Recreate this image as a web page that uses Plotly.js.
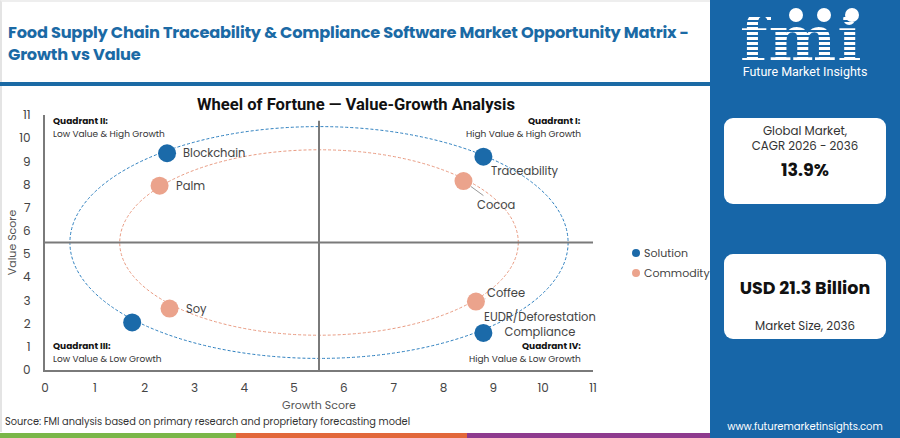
<!DOCTYPE html>
<html><head><meta charset="utf-8">
<script src="https://cdn.plot.ly/plotly-3.0.1.min.js"></script>
<style>
html,body{margin:0;padding:0;width:900px;height:438px;overflow:hidden;background:#fff;font-family:Poppins,Inter,"Open Sans",sans-serif;}
#wrap{position:relative;width:900px;height:438px;}
#frame{position:absolute;left:0;top:0;width:710px;height:432px;border-left:2px solid #e4e4e4;border-top:2px solid #eee;box-sizing:border-box;}
#chart{position:absolute;left:0;top:0;width:900px;height:438px;}
#hdr{position:absolute;left:8px;top:22px;font-weight:700;font-size:16.2px;line-height:22px;color:#1b6aa5;letter-spacing:-0.2px;}
#rule{position:absolute;left:0;top:82px;width:712px;height:4px;background:#1b6aa5;}
#src{position:absolute;left:5px;top:415px;font-size:9.8px;color:#333;}
.bar{position:absolute;top:433px;height:5px;}
#side{position:absolute;left:710px;top:0;width:190px;height:438px;background:#1766a8;z-index:5;}
#logo{position:absolute;left:30px;top:17px;height:44px;font-family:"DejaVu Serif","Liberation Serif",serif;font-weight:700;font-size:64px;letter-spacing:1px;color:transparent;
 background:repeating-linear-gradient(to bottom,#fff 0 3px,rgba(255,255,255,0) 3px 5px);-webkit-background-clip:text;background-clip:text;line-height:44px;padding-top:0;}
.globe{position:absolute;width:14px;height:14px;border-radius:50%;background:#fff;top:8px;}
#fmitxt{position:absolute;left:0;width:190px;text-align:center;top:64px;color:#fff;font-size:12.5px;line-height:16px;font-family:Roboto,"Open Sans",sans-serif;}
.card{position:absolute;left:14px;width:162px;background:#fff;border-radius:9px;text-align:center;color:#222;}
.card .s{font-size:11.8px;line-height:15px;color:#333;}
.card .b{font-size:17.5px;line-height:22px;font-weight:700;color:#111;}
#web{position:absolute;left:0;width:190px;text-align:center;top:419px;color:#fff;font-size:10px;}
</style></head>
<body><div id="wrap">
<div id="frame"></div>
<div id="chart"></div>
<div id="hdr">Food Supply Chain Traceability &amp; Compliance Software Market Opportunity Matrix -<br>Growth vs Value</div>
<div id="rule"></div>
<div id="src">Source: FMI analysis based on primary research and proprietary forecasting model</div>
<div class="bar" style="left:0;width:236px;background:#7ab648;"></div>
<div class="bar" style="left:236px;width:231px;background:#e2673a;"></div>
<div class="bar" style="left:467px;width:243px;background:#8e3a8e;"></div>
<div id="side">
  <div id="logo">fmi</div>
  <div class="globe" style="left:79px"></div>
  <div class="globe" style="left:107px"></div>
  <div class="globe" style="left:135px"></div>
  <div id="fmitxt">Future Market Insights</div>
  <div class="card" style="top:118px;height:86px;">
    <div class="s" style="margin-top:6px">Global Market,</div>
    <div class="s">CAGR 2026 - 2036</div>
    <div class="b" style="margin-top:5px">13.9%</div>
  </div>
  <div class="card" style="top:254px;height:85px;">
    <div class="b" style="margin-top:23px">USD 21.3 Billion</div>
    <div class="s" style="margin-top:20px">Market Size, 2036</div>
  </div>
  <div id="web">www.futuremarketinsights.com</div>
</div>
</div>
<script>
// ---- data ----
const seriesNames = ['Solution', 'Commodity'];
const solutionLabels = ['Blockchain', 'Traceability', '', 'EUDR/Deforestation<br>Compliance'];
const solutionGrowth = [2.45, 8.8, 1.75, 8.8];
const solutionValue  = [9.35, 9.2, 2.05, 1.6];
const commodityLabels = ['Palm', 'Cocoa', 'Soy', 'Coffee'];
const commodityGrowth = [2.3, 8.4, 2.5, 8.65];
const commodityValue  = [7.95, 8.15, 2.65, 2.95];
const tickValues = [0,1,2,3,4,5,6,7,8,9,10,11];
const ringCenter = [5.5, 5.5];
const ringRadius = [5, 4];   // solution ring, commodity ring
const divider = [5.5, 5.5];  // growth, value split
const quadrantTitles = ['Quadrant I:', 'Quadrant II:', 'Quadrant III:', 'Quadrant IV:'];
const quadrantTexts = ['High Value & High Growth', 'Low Value & High Growth', 'Low Value & Low Growth', 'High Value & Low Growth'];

// ---- styles ----
const BLUE = '#1b6aa9', ORANGE = '#eba38c';
const RINGBLUE = '#2d7fbf', RINGORANGE = '#e99b82';
const FONT = 'Poppins, Inter, "Open Sans", sans-serif';
const solLabelStyle = [
  {showarrow:false, xanchor:'left', xshift:14, yshift:0},
  {showarrow:false, xanchor:'left', xshift:6, yshift:-14},
  null,
  {showarrow:false, xanchor:'center', xshift:57, yshift:8, align:'center'}
];
const comLabelStyle = [
  {showarrow:false, xanchor:'left', xshift:14, yshift:0},
  {showarrow:true, ax:33, ay:24, arrowhead:0, arrowwidth:1, arrowcolor:'#999', standoff:9},
  {showarrow:false, xanchor:'left', xshift:14, yshift:0},
  {showarrow:true, ax:30, ay:-9, arrowhead:0, arrowwidth:1, arrowcolor:'#bbb', standoff:9}
];
const SERIES_COLORS = [BLUE, ORANGE];

const traces = [
  {type:'scatter', mode:'markers', name:seriesNames[0], x:solutionGrowth, y:solutionValue,
   marker:{size:18, color:BLUE}, cliponaxis:false},
  {type:'scatter', mode:'markers', name:seriesNames[1], x:commodityGrowth, y:commodityValue,
   marker:{size:18, color:ORANGE}, cliponaxis:false}
];

const annotations = [];
function addLabels(labels, xs, ys, styles){
  labels.forEach((t,i)=>{
    if(!t || !styles[i]) return;
    annotations.push(Object.assign({xref:'x', yref:'y', x:xs[i], y:ys[i], text:t,
      font:{family:FONT, size:11.5, color:'#444'}}, styles[i]));
  });
}
addLabels(solutionLabels, solutionGrowth, solutionValue, solLabelStyle);
addLabels(commodityLabels, commodityGrowth, commodityValue, comLabelStyle);

const qPos = [
  {x:0.982, xanchor:'right', yt:0.976, yb:0.925},
  {x:0.011, xanchor:'left', yt:0.976, yb:0.925},
  {x:0.011, xanchor:'left', yt:0.094, yb:0.043},
  {x:0.982, xanchor:'right', yt:0.094, yb:0.043}
];
quadrantTitles.forEach((t,i)=>{
  const p = qPos[i];
  annotations.push({xref:'paper', yref:'paper', x:p.x, y:p.yt, xanchor:p.xanchor, yanchor:'middle',
    text:'<b>'+t+'</b>', showarrow:false, font:{family:FONT, size:9, color:'#111'}});
  annotations.push({xref:'paper', yref:'paper', x:p.x, y:p.yb, xanchor:p.xanchor, yanchor:'middle',
    text:quadrantTexts[i], showarrow:false, font:{family:FONT, size:9, color:'#333'}});
});

const shapes = [];
[RINGBLUE, RINGORANGE].forEach((c,i)=>{
  shapes.push({type:'circle', xref:'x', yref:'y', layer:'below',
    x0:ringCenter[0]-ringRadius[i], x1:ringCenter[0]+ringRadius[i],
    y0:ringCenter[1]-ringRadius[i], y1:ringCenter[1]+ringRadius[i],
    line:{color:c, width:1, dash:'3px,2px'}});
});
shapes.push({type:'line', xref:'x', yref:'y', layer:'below', x0:divider[0], x1:divider[0], y0:0, y1:10.75,
  line:{color:'#7a7a7a', width:2}});
shapes.push({type:'line', xref:'x', yref:'y', layer:'below', x0:0, x1:11, y0:divider[1], y1:divider[1],
  line:{color:'#7a7a7a', width:2}});

// legend (series names drawn beside pixel-sized dots)
const legendY = [0.4588, 0.3804];
seriesNames.forEach((n,i)=>{
  shapes.push({type:'circle', xref:'paper', yref:'paper', xsizemode:'pixel', ysizemode:'pixel',
    xanchor:1.0785, yanchor:legendY[i], x0:-4, x1:4, y0:-4, y1:4,
    fillcolor:SERIES_COLORS[i], line:{width:0}});
  annotations.push({xref:'paper', yref:'paper', x:1.0894, y:legendY[i], xanchor:'left', yanchor:'middle',
    text:n, showarrow:false, font:{family:FONT, size:11, color:'#444'}});
});

const axisBase = {range:[0,11], tickvals:tickValues, showgrid:false, zeroline:false,
  showline:true, linecolor:'#7a7a7a', linewidth:2, ticks:'', fixedrange:true,
  tickfont:{family:FONT, size:12, color:'#444'}};

const layout = {
  width:900, height:438,
  margin:{l:45, r:307, t:115, b:68},
  paper_bgcolor:'rgba(0,0,0,0)', plot_bgcolor:'rgba(0,0,0,0)',
  font:{family:FONT},
  title:{text:'<b>Wheel of Fortune — Value-Growth Analysis</b>', xref:'container', yref:'container',
    x:356/900, xanchor:'center', y:1-104/438, yanchor:'middle',
    font:{family:'Roboto, Arial, sans-serif', size:16.6, color:'#111'}},
  xaxis:Object.assign({}, axisBase, {ticklabelstandoff:6,
    title:{text:'Growth Score', standoff:6, font:{family:FONT, size:11, color:'#555'}}}),
  yaxis:Object.assign({}, axisBase, {ticklabelstandoff:10,
    title:{text:'Value Score', standoff:0, font:{family:FONT, size:11, color:'#555'}}}),
  showlegend:false,
  shapes:shapes,
  annotations:annotations
};

Plotly.newPlot('chart', traces, layout, {displayModeBar:false, staticPlot:true});
</script>
</body></html>
